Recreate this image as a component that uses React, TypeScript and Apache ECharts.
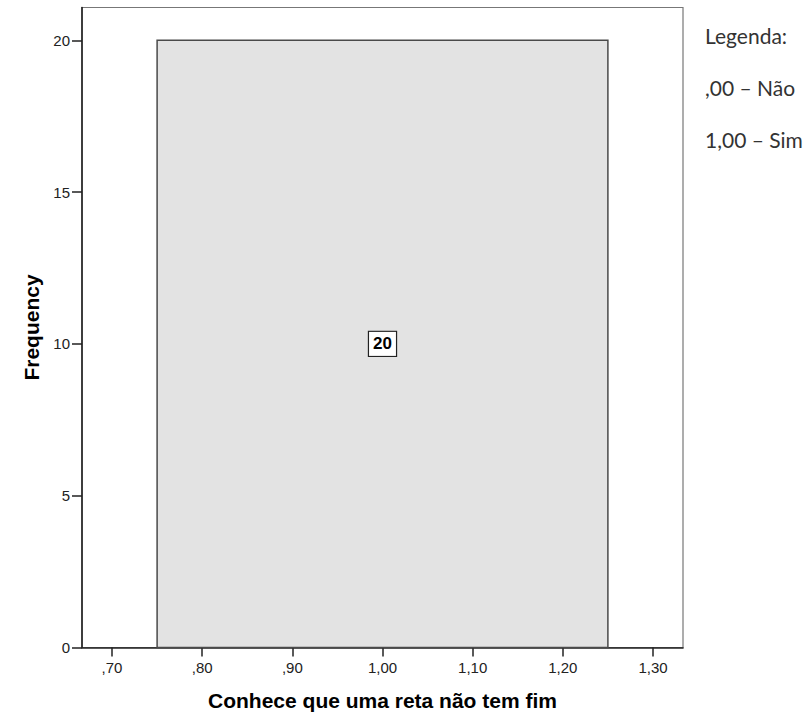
import React, { useEffect, useRef } from "react";
import * as echarts from "echarts";

const binStarts = [0.75];
const binEnds = [1.25];
const frequencies = [20];
const xTickValues = [0.7, 0.8, 0.9, 1.0, 1.1, 1.2, 1.3];
const xRange = [0.6667, 1.3333];
const yRange = [0, 21.08];
const yInterval = 5;
const xTitle = "Conhece que uma reta não tem fim";
const yTitle = "Frequency";
const legendLines = ["Legenda:", ",00 – Não", "1,00 – Sim"];

const fmt = (v: number) => {
  const s = v.toFixed(2).replace(".", ",");
  return s.startsWith("0") ? s.slice(1) : s;
};

export default function App() {
  const ref = useRef<HTMLDivElement>(null);
  useEffect(() => {
    if (!ref.current) return;
    const chart = echarts.init(ref.current, null, { renderer: "svg" });
    const data = binStarts.map((s, i) => [s, binEnds[i], frequencies[i]]);
    chart.setOption({
      animation: false,
      backgroundColor: "#ffffff",
      grid: {
        left: 82,
        right: 127,
        top: 7.5,
        bottom: 70.5,
        show: true,
        borderColor: "#777",
        borderWidth: 1.2,
        backgroundColor: "transparent",
      },
      xAxis: {
        type: "value",
        min: xRange[0],
        max: xRange[1],
        name: xTitle,
        nameLocation: "middle",
        nameGap: 42,
        nameTextStyle: { fontFamily: "Liberation Sans", fontWeight: "bold", fontSize: 21, color: "#000" },
        axisLine: { show: true, onZero: false, lineStyle: { color: "#222", width: 1.6 } },
        axisTick: { show: true, length: 9, customValues: xTickValues, lineStyle: { color: "#222", width: 1.5 } },
        axisLabel: {
          customValues: xTickValues,
          formatter: (v: number) => fmt(v),
          margin: 12,
          fontFamily: "Liberation Sans",
          fontSize: 15,
          color: "#222",
        },
        splitLine: { show: false },
      },
      yAxis: {
        type: "value",
        min: yRange[0],
        max: yRange[1],
        interval: yInterval,
        name: yTitle,
        nameLocation: "middle",
        nameGap: 40,
        nameTextStyle: { fontFamily: "Liberation Sans", fontWeight: "bold", fontSize: 21, color: "#000" },
        axisLine: { show: true, lineStyle: { color: "#222", width: 1.6 } },
        axisTick: { show: true, length: 10, lineStyle: { color: "#222", width: 1.5 } },
        axisLabel: {
          margin: 12,
          fontFamily: "Liberation Sans",
          fontSize: 15,
          color: "#222",
          showMaxLabel: false,
        },
        splitLine: { show: false },
      },
      series: [
        {
          type: "custom",
          data,
          renderItem: (params: any, api: any) => {
            const x0 = api.value(0);
            const x1 = api.value(1);
            const h = api.value(2);
            const p0 = api.coord([x0, 0]);
            const p1 = api.coord([x1, h]);
            const mid = api.coord([(x0 + x1) / 2, h / 2]);
            return {
              type: "group",
              children: [
                {
                  type: "rect",
                  shape: { x: p0[0], y: p1[1], width: p1[0] - p0[0], height: p0[1] - p1[1] },
                  style: { fill: "#e3e3e3", stroke: "#4a4a4a", lineWidth: 1.5 },
                },
                {
                  type: "text",
                  x: mid[0],
                  y: mid[1],
                  style: {
                    text: String(h),
                    align: "center",
                    verticalAlign: "middle",
                    fontFamily: "Liberation Sans",
                    fontWeight: "bold",
                    fontSize: 17,
                    fill: "#000",
                    backgroundColor: "#fff",
                    borderColor: "#222",
                    borderWidth: 1.2,
                    padding: [4, 4, 3, 4],
                  },
                },
              ],
            };
          },
        },
      ],
      graphic: legendLines.map((t, i) => ({
        type: "text",
        left: 705,
        top: 25 + i * 52,
        style: { text: t, fontFamily: "Lato", fontSize: 21, fill: "#333" },
      })),
    });
    return () => chart.dispose();
  }, []);
  return (
    <div
      ref={ref}
      style={{ position: "fixed", left: 0, top: 0, width: 810, height: 718 }}
    />
  );
}
